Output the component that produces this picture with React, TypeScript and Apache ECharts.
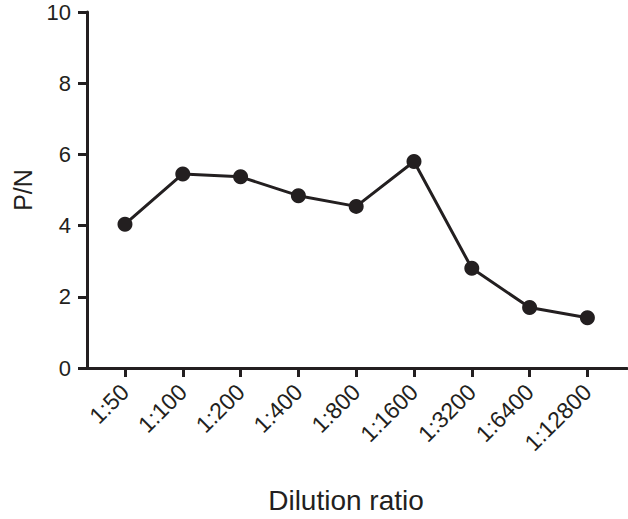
import React, { useEffect, useRef } from "react";
import * as echarts from "echarts";

const categories = ["1:50", "1:100", "1:200", "1:400", "1:800", "1:1600", "1:3200", "1:6400", "1:12800"];
const pnValues = [4.04, 5.45, 5.37, 4.84, 4.54, 5.8, 2.8, 1.7, 1.41];
const yTicks = [0, 2, 4, 6, 8, 10];

const INK = "#231f20";
const FONT = "'Liberation Sans', Arial, Helvetica, sans-serif";

export default function App() {
  const ref = useRef<HTMLDivElement>(null);
  useEffect(() => {
    if (!ref.current) return;
    const chart = echarts.init(ref.current, null, { renderer: "svg" });
    const idx = categories.map((_, i) => i);
    chart.setOption({
      animation: false,
      backgroundColor: "#ffffff",
      grid: { left: 87, right: 1, top: 12, bottom: 147, containLabel: false },
      xAxis: {
        type: "value",
        min: -0.657,
        max: 8.685,
        name: "Dilution ratio",
        nameLocation: "middle",
        nameGap: 118,
        nameTextStyle: { fontFamily: FONT, fontSize: 28, color: INK, padding: [0, 22, 0, 0] },
        axisLine: { show: true, onZero: false, lineStyle: { color: INK, width: 3 } },
        axisTick: { show: true, length: 9, lineStyle: { color: INK, width: 3 }, customValues: idx },
        axisLabel: {
          customValues: idx,
          rotate: 45,
          margin: 20,
          fontFamily: FONT,
          fontSize: 23,
          color: INK,
          formatter: (v: number) => categories[Math.round(v)] ?? "",
        },
        splitLine: { show: false },
      },
      yAxis: {
        type: "value",
        min: yTicks[0],
        max: yTicks[yTicks.length - 1],
        interval: 2,
        name: "P/N",
        nameLocation: "middle",
        nameGap: 52,
        nameRotate: 90,
        nameTextStyle: { fontFamily: FONT, fontSize: 25, color: INK },
        axisLine: { show: true, onZero: false, lineStyle: { color: INK, width: 3 } },
        axisTick: { show: true, length: 9, lineStyle: { color: INK, width: 3 } },
        axisLabel: { margin: 16, fontFamily: FONT, fontSize: 22, color: INK },
        splitLine: { show: false },
      },
      series: [
        {
          type: "line",
          data: categories.map((_, i) => [i, pnValues[i]]),
          symbol: "circle",
          symbolSize: 15,
          itemStyle: { color: INK },
          lineStyle: { color: INK, width: 3 },
        },
      ],
    });
    return () => chart.dispose();
  }, []);
  return <div ref={ref} style={{ width: 628, height: 519, position: "absolute", left: 0, top: 0 }} />;
}
